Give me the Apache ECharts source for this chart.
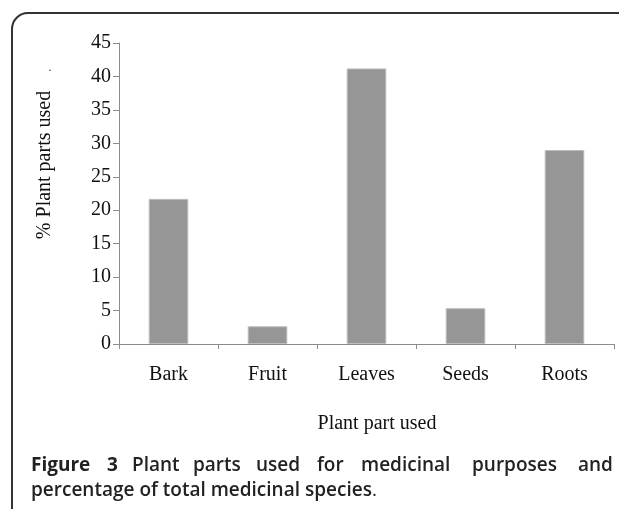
<!DOCTYPE html>
<html>
<head>
<meta charset="utf-8">
<script src="https://cdn.jsdelivr.net/npm/echarts@6/dist/echarts.min.js"></script>
<style>
  html, body { margin: 0; padding: 0; background: #fff; }
  #chart { width: 619px; height: 509px; }
</style>
</head>
<body>
<div id="chart"></div>
<script>
// plant parts and share of medicinal species (%)
const parts = ['Bark', 'Fruit', 'Leaves', 'Seeds', 'Roots'];
const percentUsed = [21.7, 2.65, 41.2, 5.35, 29.0];
const yTicks = { min: 0, max: 45, step: 5 };

// caption words, first line is justified so each word sits on its own
const captionLine1 = [
  { text: 'Figure', x: 31, bold: true },
  { text: '3', x: 107, bold: true },
  { text: 'Plant', x: 132 },
  { text: 'parts', x: 193 },
  { text: 'used', x: 256 },
  { text: 'for', x: 317 },
  { text: 'medicinal', x: 361 },
  { text: 'purposes', x: 472 },
  { text: 'and', x: 578 }
];
const captionLine2 = 'percentage of total medicinal species';

const serif = 'Liberation Serif, Times New Roman, serif';
const sans = 'Open Sans, Noto Sans, sans-serif';

const chart = echarts.init(document.getElementById('chart'), null, { renderer: 'canvas' });

const captionEls = captionLine1.map(w => ({
  type: 'text',
  left: w.x,
  top: 456,
  style: {
    text: w.text,
    font: `${w.bold ? 'bold' : '600'} 19px ${sans}`,
    fill: '#222'
  }
}));

const option = {
  animation: false,
  grid: { left: 119, right: 5, top: 43, bottom: 165 },
  xAxis: {
    type: 'category',
    data: parts,
    axisLine: { lineStyle: { color: '#8c8c8c', width: 1 } },
    axisTick: { show: true, length: 5, lineStyle: { color: '#8c8c8c' } },
    axisLabel: { fontFamily: serif, fontSize: 20, color: '#111', margin: 21 }
  },
  yAxis: {
    type: 'value',
    min: yTicks.min,
    max: yTicks.max,
    interval: yTicks.step,
    axisLine: { show: true, lineStyle: { color: '#8c8c8c', width: 1 } },
    axisTick: { show: true, length: 6, lineStyle: { color: '#8c8c8c' } },
    splitLine: { show: false },
    axisLabel: { fontFamily: serif, fontSize: 20, color: '#111', margin: 8 }
  },
  series: [
    {
      type: 'bar',
      data: percentUsed,
      barWidth: '40%',
      itemStyle: { color: '#969696', borderColor: '#bdbdbd', borderWidth: 1 }
    }
  ],
  graphic: [
    {
      type: 'rect',
      shape: { x: 12, y: 13, width: 700, height: 600, r: [16, 0, 0, 0] },
      style: { fill: 'none', stroke: '#333', lineWidth: 2 },
      silent: true
    },
    {
      type: 'text',
      x: 45,
      y: 165,
      rotation: Math.PI / 2,
      style: {
        text: '% Plant parts used',
        font: `20px ${serif}`,
        fill: '#111',
        align: 'center',
        verticalAlign: 'middle'
      }
    },
    {
      type: 'text',
      x: 50,
      y: 68,
      style: { text: '.', font: `12px ${serif}`, fill: '#333', align: 'center', verticalAlign: 'middle' }
    },
    {
      type: 'text',
      x: 377,
      y: 424,
      style: {
        text: 'Plant part used',
        font: `20px ${serif}`,
        fill: '#111',
        align: 'center',
        verticalAlign: 'middle'
      }
    },
    ...captionEls,
    {
      type: 'text',
      left: 31,
      top: 481,
      style: {
        rich: {
          t: { font: `600 19px ${sans}`, fill: '#222' },
          d: { font: `normal 19px ${sans}`, fill: '#222' }
        },
        text: `{t|${captionLine2}}{d|.}`
      }
    }
  ]
};

chart.setOption(option);
window.addEventListener('resize', () => chart.resize());
</script>
</body>
</html>
